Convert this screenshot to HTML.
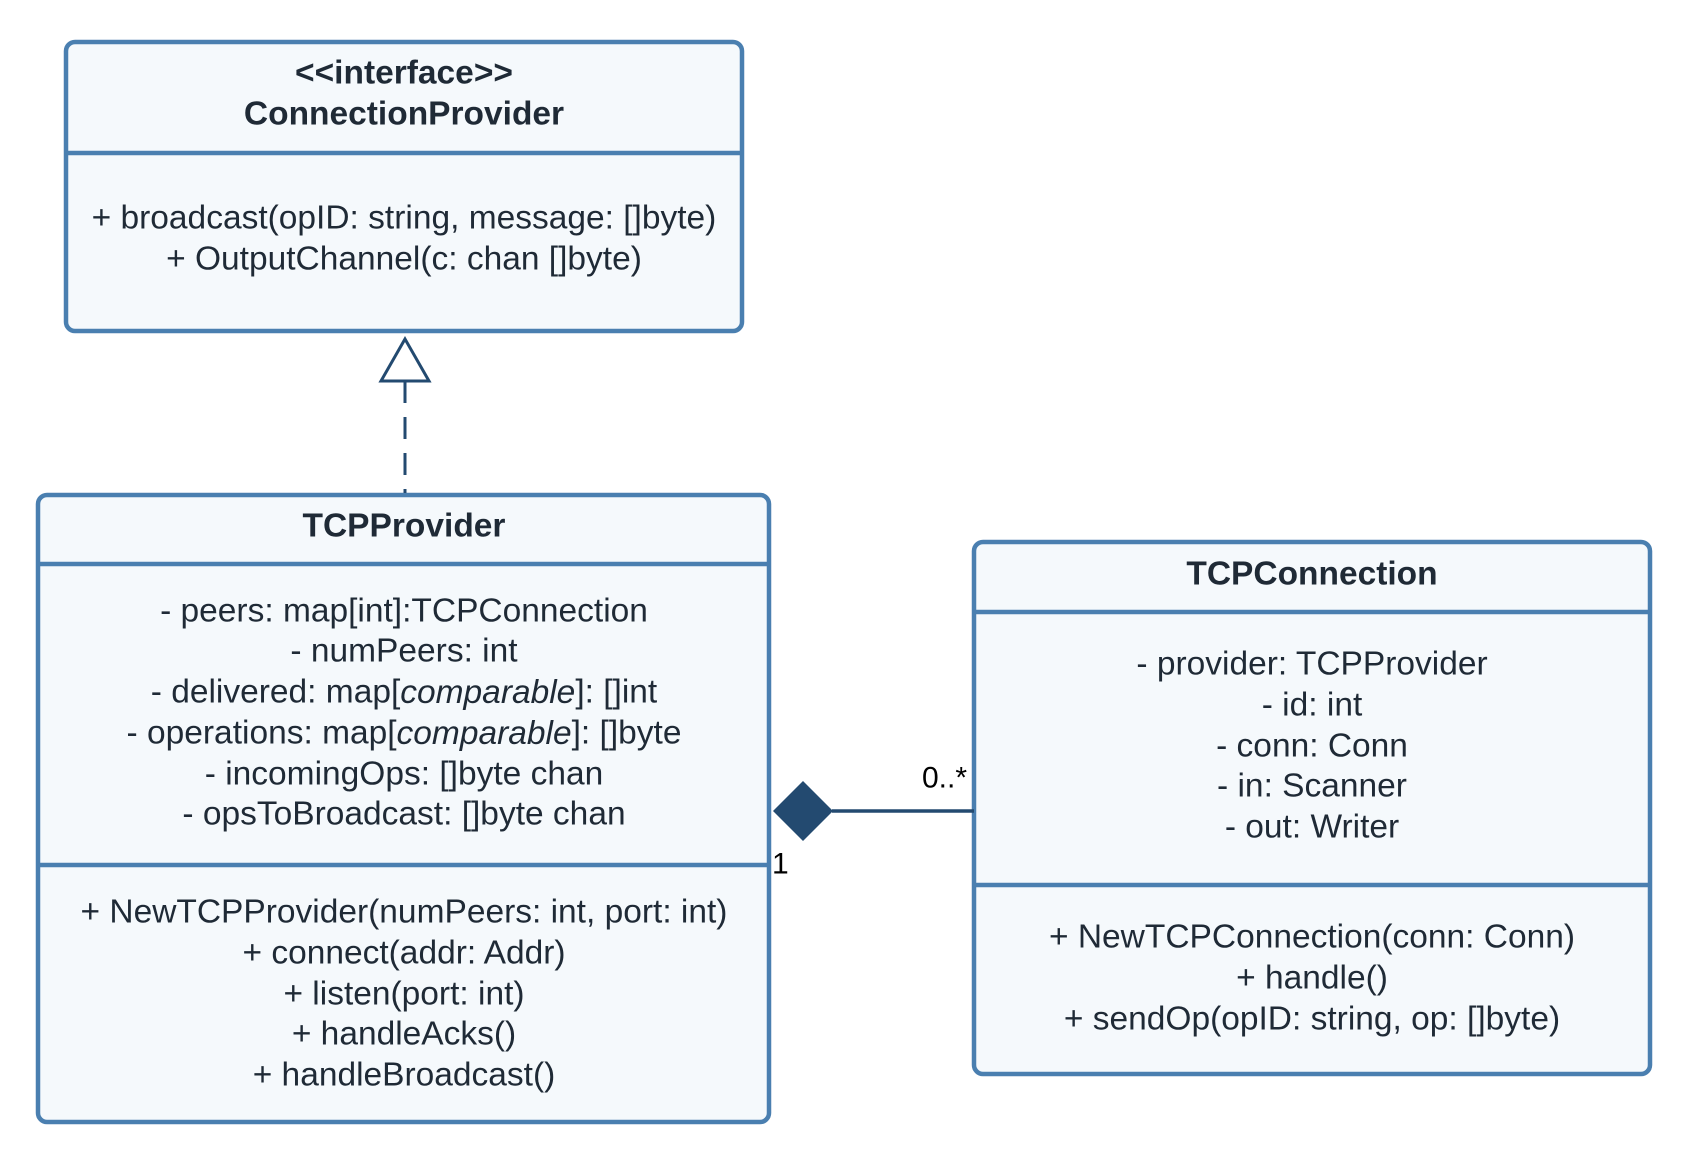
<!DOCTYPE html>
<html><head><meta charset="utf-8"><style>
html,body{margin:0;padding:0;background:#fff;}
svg{display:block;}
text{font-family:"Liberation Sans",sans-serif;font-size:33.5px;fill:#1f2a36;}
.b{font-weight:bold;}
</style></head><body>
<svg width="1697" height="1163" viewBox="0 0 1697 1163" xmlns="http://www.w3.org/2000/svg">
<g fill="#f5f9fc" stroke="#4a7fb0" stroke-width="4.5">
<rect x="66" y="42" width="676" height="289" rx="9"/>
<line x1="66" y1="153" x2="742" y2="153"/>
<rect x="38" y="495" width="731" height="627" rx="9"/>
<line x1="38" y1="564" x2="769" y2="564"/>
<line x1="38" y1="865" x2="769" y2="865"/>
<rect x="974" y="542" width="676" height="532" rx="9"/>
<line x1="974" y1="612" x2="1650" y2="612"/>
<line x1="974" y1="885" x2="1650" y2="885"/>
</g>
<line x1="405" y1="381" x2="405" y2="493" stroke="#234a70" stroke-width="3" stroke-dasharray="22,14"/>
<polygon points="405,339 381,381 429,381" fill="#fff" stroke="#234a70" stroke-width="3"/>
<line x1="832" y1="811" x2="974" y2="811" stroke="#234a70" stroke-width="3.5"/>
<polygon points="773,811 803,781 833,811 803,841" fill="#234a70"/>
<g text-anchor="middle" dominant-baseline="central">
<text x="404" y="73" class="b">&lt;&lt;interface&gt;&gt;</text>
<text x="404" y="114" class="b">ConnectionProvider</text>
<text x="404" y="218">+ broadcast(opID: string, message: []byte)</text>
<text x="404" y="259">+ OutputChannel(c: chan []byte)</text>
<text x="404" y="526" class="b">TCPProvider</text>
<text x="404" y="611">- peers: map[int]:TCPConnection</text>
<text x="404" y="651">- numPeers: int</text>
<text x="404" y="692">- delivered: map[<tspan font-style="italic">comparable</tspan>]: []int</text>
<text x="404" y="733">- operations: map[<tspan font-style="italic">comparable</tspan>]: []byte</text>
<text x="404" y="774">- incomingOps: []byte chan</text>
<text x="404" y="814">- opsToBroadcast: []byte chan</text>
<text x="404" y="912">+ NewTCPProvider(numPeers: int, port: int)</text>
<text x="404" y="953">+ connect(addr: Addr)</text>
<text x="404" y="994">+ listen(port: int)</text>
<text x="404" y="1034">+ handleAcks()</text>
<text x="404" y="1075">+ handleBroadcast()</text>
<text x="1312" y="574" class="b">TCPConnection</text>
<text x="1312" y="664">- provider: TCPProvider</text>
<text x="1312" y="705">- id: int</text>
<text x="1312" y="746">- conn: Conn</text>
<text x="1312" y="786">- in: Scanner</text>
<text x="1312" y="827">- out: Writer</text>
<text x="1312" y="937">+ NewTCPConnection(conn: Conn)</text>
<text x="1312" y="978">+ handle()</text>
<text x="1312" y="1019">+ sendOp(opID: string, op: []byte)</text>
</g>
<g dominant-baseline="central">
<text x="922" y="778" style="font-size:30px;fill:#000">0..*</text>
<text x="772" y="864" style="font-size:30px;fill:#000">1</text>
</g>
</svg>
</body></html>
